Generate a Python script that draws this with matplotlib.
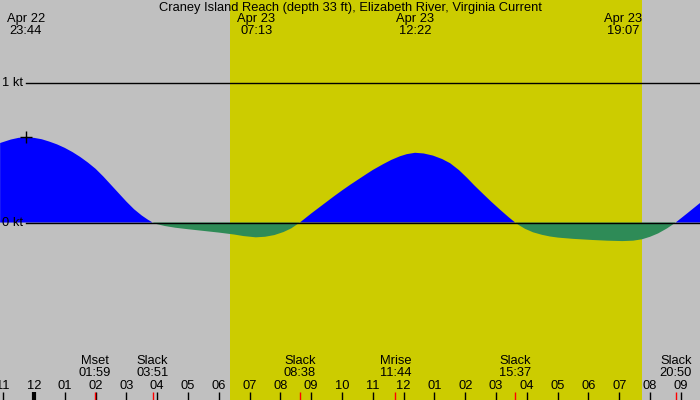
import matplotlib
matplotlib.use("Agg")
import matplotlib.pyplot as plt
import numpy as np

plt.rcParams['font.family'] = ['Liberation Sans', 'DejaVu Sans']

title = "Craney Island Reach (depth 33 ft), Elizabeth River, Virginia Current"

# current speed (kt), hours from Apr 23 00:00
hours = [-1.10, -0.75, -0.5, -0.27, 0.0, 0.25, 0.5, 0.75, 1.0, 1.25, 1.5, 1.75, 2.0,
         2.25, 2.5, 2.75, 3.0, 3.25, 3.5, 3.7, 3.85,
         4.0, 4.25, 4.58, 5.0, 5.5, 6.0, 6.5, 6.8, 7.2, 7.5, 7.8, 8.1, 8.35, 8.63,
         9.0, 9.45, 9.75, 10.0, 10.26, 10.5, 10.81, 11.0, 11.33, 11.6, 11.88, 12.1,
         12.37, 12.65, 12.95, 13.25, 13.51, 13.8, 14.06, 14.3, 14.58, 14.85, 15.13,
         15.4, 15.62,
         15.75, 15.94, 16.2, 16.49, 16.75, 17.01, 17.5, 18.12, 18.6, 19.1, 19.45,
         19.74, 20.0, 20.26, 20.55, 20.83, 21.2, 21.62]
speed = [0.57, 0.595, 0.607, 0.61, 0.607, 0.597, 0.58, 0.56, 0.535, 0.505, 0.47, 0.43, 0.385,
         0.33, 0.27, 0.21, 0.15, 0.095, 0.05, 0.02, 0.0,
         -0.012, -0.025, -0.037, -0.048, -0.060, -0.072, -0.086, -0.097, -0.106, -0.102,
         -0.09, -0.068, -0.042, 0.0,
         0.065, 0.14, 0.19, 0.23, 0.27, 0.305, 0.35, 0.377, 0.418, 0.449, 0.475, 0.49,
         0.50, 0.495, 0.48, 0.455, 0.425, 0.375, 0.32, 0.265, 0.205, 0.148, 0.092,
         0.04, 0.0,
         -0.02, -0.045, -0.07, -0.088, -0.10, -0.108, -0.117, -0.125, -0.130, -0.133, -0.130,
         -0.12, -0.102, -0.078, -0.042, 0.0, 0.065, 0.14]

# max current labels on top
max_times = [-0.267, 7.217, 12.367, 19.117]
max_labels = ["Apr 22\n23:44", "Apr 23\n07:13", "Apr 23\n12:22", "Apr 23\n19:07"]

# slack / moon events at bottom
ev_times = [1.983, 3.85, 8.633, 11.733, 15.617, 20.833]
ev_names = ["Mset", "Slack", "Slack", "Mrise", "Slack", "Slack"]
ev_clock = ["01:59", "03:51", "08:38", "11:44", "15:37", "20:50"]

sunrise, sunset = 6.36, 19.74
hour_ticks = list(range(-1, 22))

x0, x1 = -1.104, 21.62
y0, y1 = -1.272, 1.595

fig = plt.figure(figsize=(7, 4), dpi=100)
fig.patch.set_facecolor("#c0c0c0")
ax = fig.add_axes([0, 0, 1, 1])
ax.set_facecolor("#c0c0c0")
ax.set_xlim(x0, x1)
ax.set_ylim(y0, y1)
ax.axis("off")

ax.axvspan(sunrise, sunset, color="#cccc00", lw=0, zorder=0)

h = np.array(hours)
v = np.array(speed)
ax.fill_between(h, 0, v, where=v >= 0, interpolate=True, color="#0000ff", lw=0, zorder=2)
ax.fill_between(h, 0, v, where=v <= 0, interpolate=True, color="#2e8b57", lw=0, zorder=2)

fs = 9.3
xl = x0 + 26 / 700 * (x1 - x0)
for kt, lab in [(1, "1 kt"), (0, "0 kt")]:
    ax.plot([xl, x1], [kt, kt], color="black", lw=1, zorder=3)
    ax.text(x0 + 2 / 700 * (x1 - x0), kt, lab, fontsize=fs, va="center", ha="left", zorder=4)

ax.plot(max_times[0], speed[3], marker="+", color="black", ms=9, mew=1, zorder=4)

tr = ax.get_xaxis_transform()
ax.text(0.5, 1 - 8 / 400, title, transform=ax.transAxes, ha="center", va="center", fontsize=fs)
for t, lab in zip(max_times, max_labels):
    ax.text(t, 1 - 25 / 400, lab, transform=tr, ha="center",
            va="center", fontsize=fs, linespacing=0.95)

for t, n, c in zip(ev_times, ev_names, ev_clock):
    ax.text(t, 1 - 361.5 / 400, n, transform=tr, ha="center", va="center", fontsize=fs)
    ax.text(t, 1 - 373.5 / 400, c, transform=tr, ha="center", va="center", fontsize=fs)

for hr in hour_ticks:
    lab = "%02d" % ((hr % 12) or 12)
    ax.text(hr, 1 - 386 / 400, lab, transform=tr, ha="center", va="center", fontsize=fs)
    lw = 3 if hr % 24 == 0 else 1
    ax.plot([hr, hr], [0, 1 - 392 / 400], transform=tr, color="black", lw=lw,
            solid_capstyle="butt", zorder=5)
for t in ev_times:
    ax.plot([t, t], [0, 1 - 392 / 400], transform=tr, color="red", lw=1,
            solid_capstyle="butt", zorder=6)

fig.savefig("out.png", dpi=100, facecolor=fig.get_facecolor())
